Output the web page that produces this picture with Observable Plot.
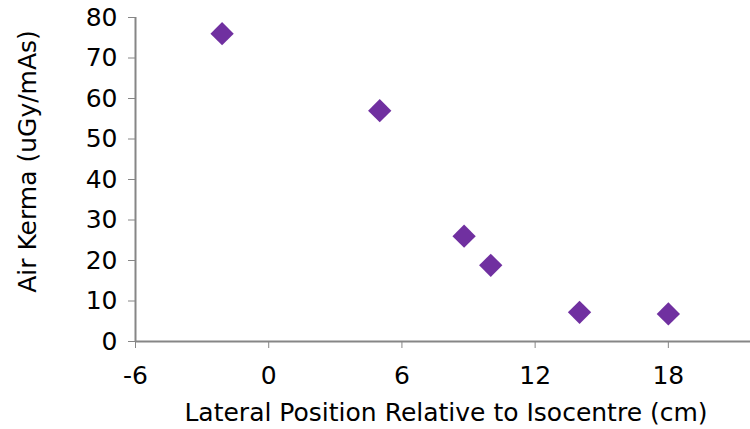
<!DOCTYPE html>
<html>
<head>
<meta charset="utf-8">
<script src="https://cdn.jsdelivr.net/npm/d3@7"></script>
<script src="https://cdn.jsdelivr.net/npm/@observablehq/plot@0.6"></script>
<style>
  html, body { margin: 0; padding: 0; background: #fff; }
  #chart svg { display: block; }
</style>
</head>
<body>
<div id="chart"></div>
<script>
const positions = [-2.1, 5.0, 8.8, 10.0, 14.0, 18.0];
const kerma = [76, 57, 26, 18.8, 7.2, 6.8];
const xTicks = [-6, 0, 6, 12, 18];
const yTicks = [0, 10, 20, 30, 40, 50, 60, 70, 80];
const xTitle = "Lateral Position Relative to Isocentre (cm)";
const yTitle = "Air Kerma (uGy/mAs)";

const data = positions.map((x, i) => ({x, y: kerma[i]}));
const axisColor = "#868686";
const font = "'DejaVu Sans', sans-serif";
const fs = 25;

const chart = Plot.plot({
  width: 750,
  height: 429,
  marginLeft: 135,
  marginRight: 0,
  marginTop: 17,
  marginBottom: 88,
  style: {fontFamily: font, fontSize: fs + "px", color: "#000", background: "#fff", overflow: "visible"},
  x: {domain: [-6, 21.7]},
  y: {domain: [0, 80]},
  marks: [
    Plot.axisX({ticks: xTicks, tickFormat: d => String(d), tickSize: 7, tickPadding: 18, stroke: axisColor, label: null, fontSize: fs, fill: "#000"}),
    Plot.axisY({ticks: yTicks, tickFormat: d => String(d), tickSize: 7, tickPadding: 11, stroke: axisColor, label: null, fontSize: fs, fill: "#000"}),
    Plot.ruleX([-6], {stroke: axisColor, strokeWidth: 2}),
    Plot.ruleY([0], {stroke: axisColor, strokeWidth: 2}),
    Plot.dot(data, {x: "x", y: "y", symbol: "diamond2", r: 10.5, fill: "#7030A0", stroke: "none"}),
    Plot.text([xTitle], {frameAnchor: "bottom", lineAnchor: "middle", dx: 3, dy: 71, fontSize: fs, fill: "#000", text: d => d}),
    Plot.text([yTitle], {frameAnchor: "left", textAnchor: "middle", lineAnchor: "middle", dx: -108, dy: -18, rotate: -90, fontSize: fs, fill: "#000", text: d => d})
  ]
});
document.getElementById("chart").appendChild(chart);
</script>
</body>
</html>
